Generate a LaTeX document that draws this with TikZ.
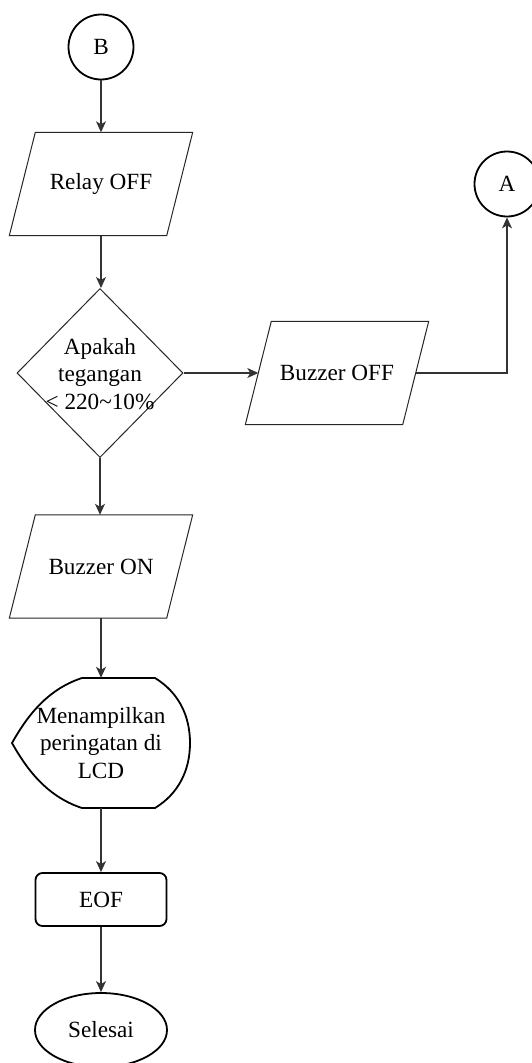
\documentclass[tikz,border=0pt]{standalone}
\usepackage{fontspec}
\setmainfont{Liberation Serif}
\usetikzlibrary{shapes.geometric,arrows.meta}
\begin{document}
\begin{tikzpicture}[x=1pt,y=-1pt,
  font=\fontsize{23.2}{27.8}\selectfont,
  thick line/.style={draw=black,line width=1.8pt},
  thin line/.style={draw=black!85,line width=1pt},
  conn/.style={draw=black!80,line width=1.2pt,-{Stealth[length=11pt,width=10pt,inset=3pt]}},
  connector/.style={circle,thick line,minimum size=65pt,inner sep=0pt},
  % input/output box: the node holds the text, the slanted outline is drawn round it
  iobox/.style={rectangle,minimum width=157pt,minimum height=103pt,inner sep=0pt},
  decision/.style={diamond,thin line,minimum width=166pt,minimum height=169pt,inner sep=0pt},
  procbox/.style={rectangle,rounded corners=7pt,thick line,
    minimum width=131pt,minimum height=53pt,inner sep=0pt},
  terminal/.style={ellipse,thick line,minimum width=132pt,minimum height=74pt,inner sep=0pt},
  plain/.style={align=center,inner sep=0pt}
]
\useasboundingbox (0,0) rectangle (532,1063);
\clip (0,0) rectangle (532,1063);

% off-page connectors
\node[connector] (B) at (101,47) {B};
\node[connector] (A) at (507,184) {A};

% main column
\node[iobox] (relay) at (101,184) {Relay OFF};
\node[decision] (dec) at (100,373) {};
\node[plain] (dectext) at (100,374) {Apakah\\tegangan\\< 220\textasciitilde 10\%};
\node[iobox] (boff) at (337,373) {Buzzer OFF};
\node[iobox] (bon) at (101,566.5) {Buzzer ON};

% parallelogram outlines
\foreach \n in {relay,boff,bon}
  \draw[thin line] ([xshift=13pt]\n.north west) -- ([xshift=13pt]\n.north east)
    -- ([xshift=-13pt]\n.south east) -- ([xshift=-13pt]\n.south west) -- cycle;

% display symbol
\node[plain,minimum width=178pt,minimum height=130pt] (disp) at (101,743)
  {Menampilkan\\peringatan di\\LCD};
\draw[thick line] (82,678) -- (155,678)
  .. controls (178,692) and (190,715) .. (190,743)
  .. controls (190,771) and (178,794) .. (155,808)
  -- (82,808)
  .. controls (45,796) and (25,766) .. (12,743)
  .. controls (25,720) and (45,690) .. (82,678) -- cycle;

\node[procbox] (eof) at (101,899.5) {EOF};
\node[terminal] (end) at (101,1030) {Selesai};

% flow lines
\draw[conn] (B) -- (relay);
\draw[conn] (relay.south) -- (relay.south |- dec.north);
\draw[conn] (dec) -- (boff);
\draw[conn] (boff.east) -| (A);
\draw[conn] (dec.south) -- (dec.south |- bon.north);
\draw[conn] (bon) -- (disp);
\draw[conn] (disp) -- (eof);
\draw[conn] (eof) -- (end);
\end{tikzpicture}
\end{document}
